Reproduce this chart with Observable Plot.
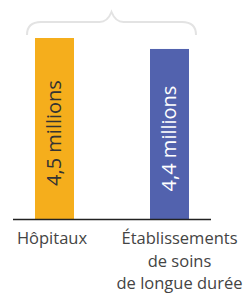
<!DOCTYPE html>
<html><head><meta charset="utf-8">
<script src="https://cdn.jsdelivr.net/npm/d3@7"></script>
<script src="https://cdn.jsdelivr.net/npm/@observablehq/plot@0.6"></script>
<style>body{margin:0;background:#fff}#c{width:246px;height:293px;overflow:hidden}</style>
</head><body><div id="c"></div>
<script>
const categories = ["Hôpitaux", "Établissements de soins de longue durée"];
const tickLabels = ["Hôpitaux", "Établissements\nde soins\nde longue durée"];
const values = [4.5, 4.4];
const valueLabels = ["4,5 millions", "4,4 millions"];
const colors = ["#F5AE1C", "#5262AE"];
const textColors = ["#333333", "#ffffff"];

const data = categories.map((c, i) => ({cat: c, value: values[i], label: valueLabels[i], tick: tickLabels[i], color: colors[i], tcolor: textColors[i]}));
const y0 = 2.85;
const font = "Open Sans";

function brace(index, scales, values, dimensions) {
  const x = scales.x;
  const left = x(categories[0]) - 8;
  const right = x(categories[1]) + x.bandwidth() + 7;
  const c = (left + right) / 2;
  const top = dimensions.marginTop;
  const yh = top - 16, yp = top - 26, ye = top - 3;
  const p = d3.path();
  p.moveTo(left, ye);
  p.quadraticCurveTo(left, yh, left + 14, yh);
  p.lineTo(c - 12, yh);
  p.quadraticCurveTo(c - 4, yh, c, yp);
  p.quadraticCurveTo(c + 4, yh, c + 12, yh);
  p.lineTo(right - 14, yh);
  p.quadraticCurveTo(right, yh, right, ye);
  const el = d3.create("svg:path").attr("d", p.toString()).attr("fill", "none").attr("stroke", "#e3e3e3").attr("stroke-width", 2);
  return el.node();
}

const chart = Plot.plot({
  width: 246, height: 293,
  marginLeft: 13, marginRight: 35, marginTop: 38, marginBottom: 74,
  style: {fontFamily: font, background: "#fff"},
  x: {domain: categories, paddingInner: 0.66, paddingOuter: 0.19, axis: null},
  y: {domain: [y0, 4.5], axis: null},
  marks: [
    Plot.barY(data, {x: "cat", y1: () => y0, y2: "value", fill: "color"}),
    Plot.text(data, {x: "cat", y: d => (y0 + d.value) / 2, text: "label", rotate: -90, fill: "tcolor", fontSize: 20, dy: 4}),
    Plot.ruleY([y0], {stroke: "#222", strokeWidth: 1.5}),
    Plot.text(data.slice(0, 1), {x: "cat", text: "tick", frameAnchor: "bottom", lineAnchor: "top", dy: 9, dx: -3, fontSize: 16.5, fill: "#444", lineHeight: 1.36}),
    Plot.text(data.slice(1), {x: "cat", text: "tick", frameAnchor: "bottom", lineAnchor: "top", dy: 9, dx: 9.5, fontSize: 16.5, fill: "#444", lineHeight: 1.36}),
    brace
  ]
});
document.getElementById("c").appendChild(chart);
</script></body></html>
